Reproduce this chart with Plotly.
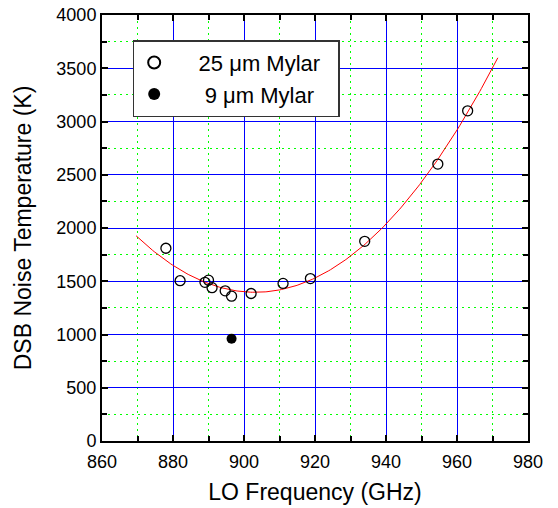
import numpy as np
import plotly.graph_objects as go

# 25 um Mylar data
freq_25 = [878.0, 882.0, 889.0, 890.0, 891.0, 894.7, 896.5, 902.0, 911.0, 918.7, 934.0, 954.6, 963.0]
temp_25 = [1810, 1505, 1490, 1510, 1440, 1410, 1360, 1385, 1480, 1525, 1875, 2600, 3100]
# 9 um Mylar data
freq_9 = [896.5]
temp_9 = [960]
# fit range
fit_start, fit_end = 869.6, 971.5

coef = np.polyfit(freq_25, temp_25, 2)
fx = np.linspace(fit_start, fit_end, 200)
fy = np.polyval(coef, fx)

font = "Arial, Liberation Sans, sans-serif"
NB = "\u00a0"
fig = go.Figure()
fig.add_trace(go.Scatter(x=fx, y=fy, mode="lines", line=dict(color="#ff0000", width=1),
                         showlegend=False, hoverinfo="skip"))
fig.add_trace(go.Scatter(x=freq_25, y=temp_25, mode="markers", name=NB * 4 + "25 \u03bcm Mylar" + NB * 2,
                         marker=dict(symbol="circle-open", size=10, color="black", line=dict(width=1.3, color="black"))))
fig.add_trace(go.Scatter(x=freq_9, y=temp_9, mode="markers", name=NB * 5 + "9 \u03bcm Mylar",
                         marker=dict(symbol="circle", size=10, color="black")))

axis_common = dict(showline=True, linecolor="black", linewidth=2, mirror="allticks",
                   ticks="inside", ticklen=6, tickwidth=2, tickcolor="black",
                   showgrid=True, gridcolor="#0000ff", gridwidth=1, zeroline=False,
                   automargin=False, ticklabeloverflow="allow",
                   tickfont=dict(family=font, size=18, color="black"))
fig.update_xaxes(range=[860, 980], dtick=20, tick0=860, ticklabelstandoff=3,
                 title=dict(text="LO Frequency (GHz)", font=dict(family=font, size=23, color="black"), standoff=13),
                 minor=dict(dtick=10, showgrid=True, gridcolor="#00ff00", griddash="2px,4px", gridwidth=1,
                            ticks="inside", ticklen=5, tickcolor="black"),
                 **axis_common)
fig.update_yaxes(range=[0, 4000], dtick=500, tick0=0,
                 title=dict(text="DSB Noise Temperature (K)", font=dict(family=font, size=23, color="black"), standoff=18),
                 minor=dict(dtick=250, showgrid=True, gridcolor="#00ff00", griddash="2px,4px", gridwidth=1,
                            ticks="inside", ticklen=5, tickcolor="black"),
                 **axis_common)
fig.update_layout(width=558, height=508, margin=dict(l=102, r=30, t=15, b=67),
                  plot_bgcolor="white", paper_bgcolor="white",
                  legend=dict(x=0.072, y=0.941, xanchor="left", yanchor="top",
                              bgcolor="white", bordercolor="#333333", borderwidth=1.5,
                              font=dict(family=font, size=22, color="black"),
                              tracegroupgap=0, itemsizing="constant"))
fig.write_html("out.html", config={"displayModeBar": False},
               post_script="document.body.style.margin='0';")
